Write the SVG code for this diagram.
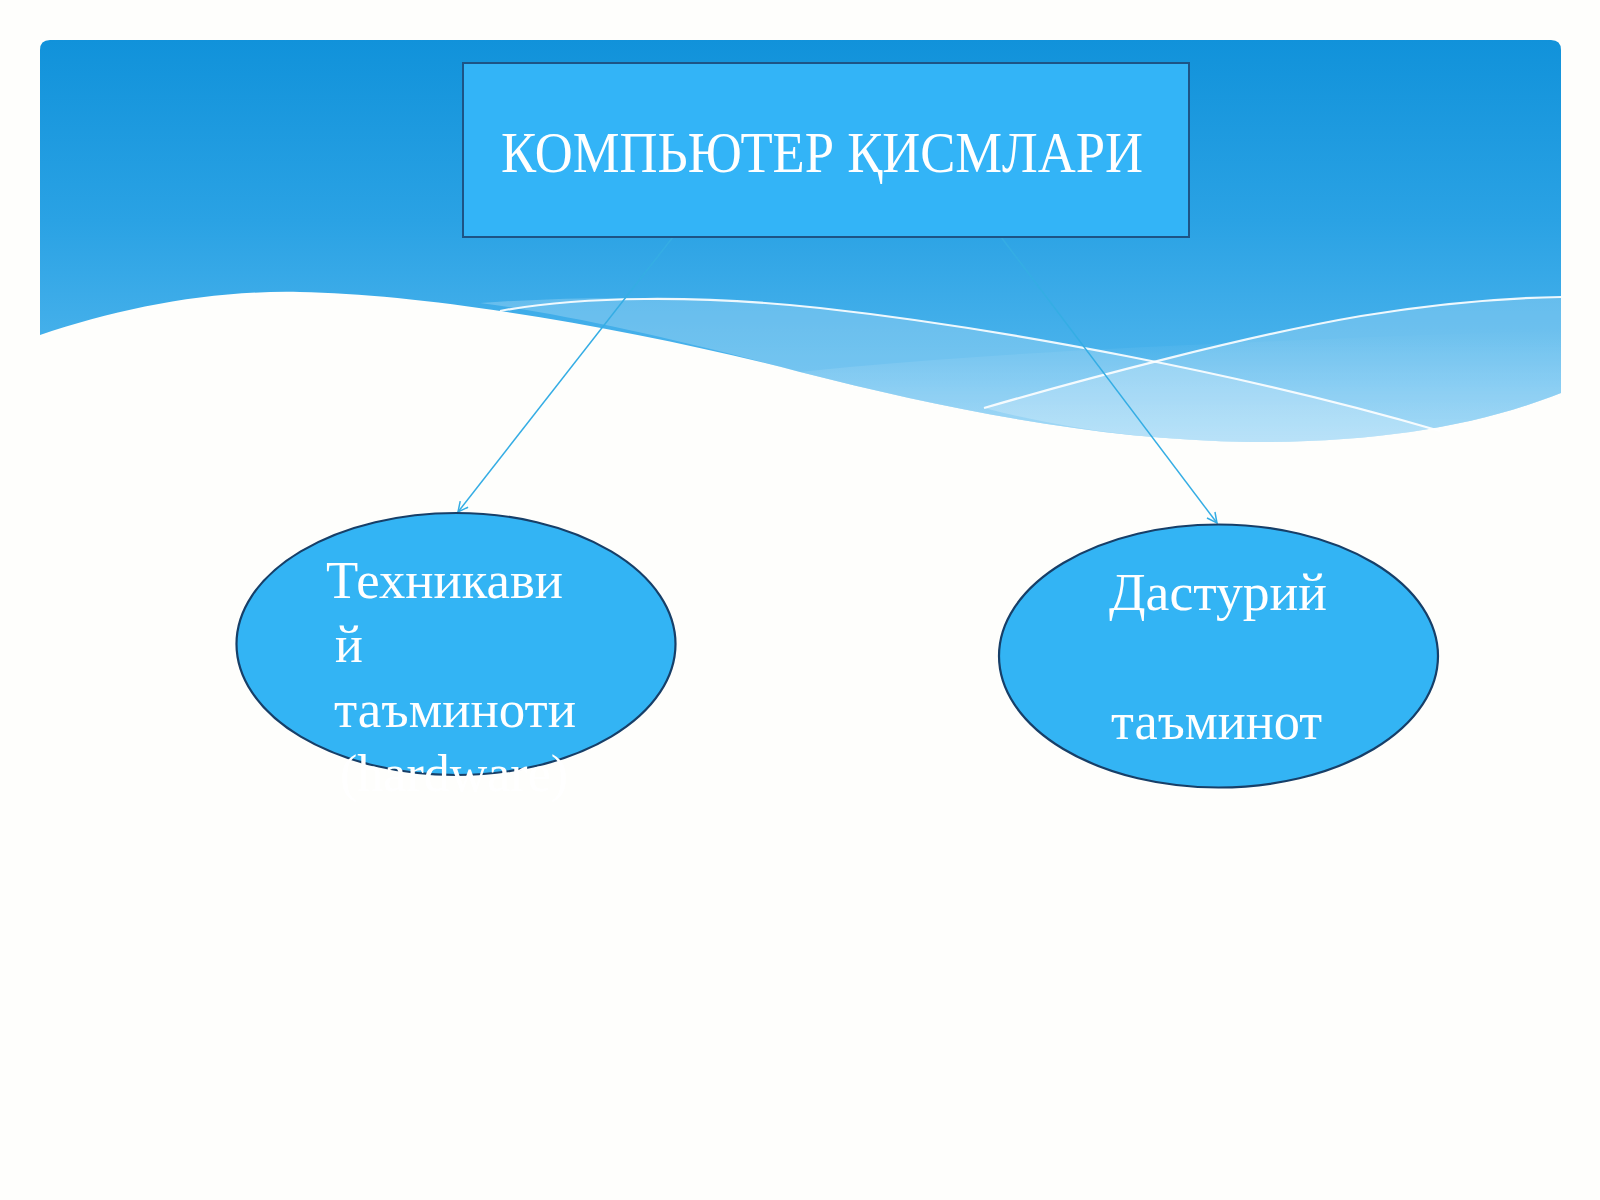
<svg xmlns="http://www.w3.org/2000/svg" width="1600" height="1200" viewBox="0 0 1600 1200">
  <defs>
    <linearGradient id="sky" x1="0" y1="40" x2="0" y2="440" gradientUnits="userSpaceOnUse">
      <stop offset="0" stop-color="#1192da"/>
      <stop offset="0.45" stop-color="#2aa2e4"/>
      <stop offset="1" stop-color="#5cbcf0"/>
    </linearGradient>
    <linearGradient id="glow" x1="0" y1="330" x2="0" y2="445" gradientUnits="userSpaceOnUse">
      <stop offset="0" stop-color="#ffffff" stop-opacity="0"/>
      <stop offset="1" stop-color="#ffffff" stop-opacity="0.3"/>
    </linearGradient>
    <marker id="arrow" viewBox="0 0 12 12" refX="11" refY="6" markerWidth="12" markerHeight="12" markerUnits="userSpaceOnUse" orient="auto">
      <path d="M1,1 L11,6 L1,11" fill="none" stroke="#35ade4" stroke-width="1.5"/>
    </marker>
    <style>
      .node-fill { fill: #33b4f4; stroke: #173f68; stroke-width: 2.2; }
      .label { font-family: "Liberation Serif", "DejaVu Serif", serif; fill: #ffffff; }
      .conn { stroke: #35ade4; stroke-width: 1.5; fill: none; }
      .wline { fill: none; stroke: #ffffff; stroke-width: 2.2; stroke-opacity: 0.9; }
    </style>
  </defs>

  <!-- background -->
  <rect x="0" y="0" width="1600" height="1200" fill="#fefefc"/>
  <path id="sky-panel" fill="url(#sky)" d="M40,50 Q40,40 50,40 H1551 Q1561,40 1561,50 V393 C1480,425 1380,443 1250,442 C1100,440 950,410 800,372 C640,330 430,294 300,292 C210,290 120,308 40,335 Z"/>
  <!-- light bands -->
  <path fill="#ffffff" fill-opacity="0.22" d="M480,303 C580,296 700,295 820,308 C1000,328 1250,375 1440,431 C1380,443 1320,443 1250,442 C1100,440 950,410 800,372 C680,340 570,315 480,303 Z"/>
  <path fill="#ffffff" fill-opacity="0.22" d="M984,408 C1080,380 1250,335 1361,316 C1440,303 1500,298 1561,297 V393 C1480,425 1380,443 1250,442 C1150,441 1060,428 984,408 Z"/>
  <path fill="url(#glow)" d="M800,372 C950,410 1100,440 1250,442 C1380,443 1480,425 1561,393 V330 C1300,340 1000,350 800,372 Z"/>
  <!-- thin white lines -->
  <path class="wline" d="M500,311 C580,296 700,295 820,308 C1000,328 1250,375 1440,431"/>
  <path class="wline" d="M984,408 C1080,380 1250,335 1361,316 C1440,303 1500,298 1561,297"/>

  <!-- connectors -->
  <g id="connectors">
    <line class="conn" x1="673" y1="237" x2="458" y2="512" marker-end="url(#arrow)"/>
    <line class="conn" x1="1001" y1="237" x2="1217" y2="523" marker-end="url(#arrow)"/>
  </g>

  <!-- title node -->
  <g id="node-title">
    <rect x="463" y="63" width="726" height="174" fill="#33b4f7" stroke="#1d5486" stroke-width="2"/>
    <text class="label" x="501" y="172" font-size="56" textLength="642" lengthAdjust="spacingAndGlyphs">КОМПЬЮТЕР ҚИСМЛАРИ</text>
  </g>

  <!-- hardware node -->
  <g id="node-hardware">
    <ellipse class="node-fill" cx="456" cy="644" rx="219.5" ry="131"/>
    <text class="label" font-size="52">
      <tspan x="326" y="598" textLength="237" lengthAdjust="spacingAndGlyphs">Техникави</tspan>
      <tspan x="335" y="662">й</tspan>
      <tspan x="334" y="727" textLength="242" lengthAdjust="spacingAndGlyphs">таъминоти</tspan>
      <tspan x="340" y="791">(hardware)</tspan>
    </text>
  </g>

  <!-- software node -->
  <g id="node-software">
    <ellipse class="node-fill" cx="1218.5" cy="656" rx="219.5" ry="131.5"/>
    <text class="label" font-size="52">
      <tspan x="1109" y="610" textLength="218" lengthAdjust="spacingAndGlyphs">Дастурий</tspan>
      <tspan x="1111" y="739" textLength="211" lengthAdjust="spacingAndGlyphs">таъминот</tspan>
    </text>
  </g>
</svg>
